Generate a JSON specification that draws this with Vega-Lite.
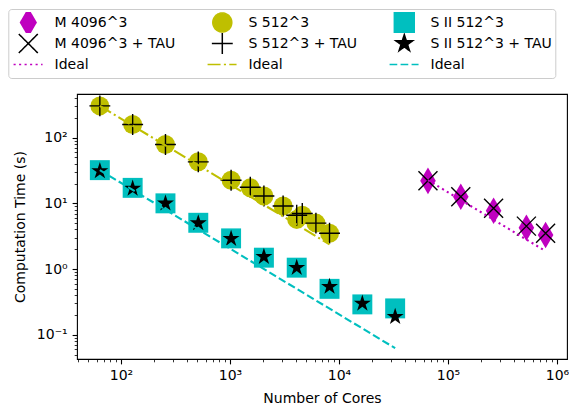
{
  "$schema": "https://vega.github.io/schema/vega-lite/v6.json",
  "width": 490,
  "height": 265,
  "autosize": {"type": "none"},
  "padding": {"left": 77, "top": 94, "right": 2, "bottom": 50},
  "data": {"values": [
    {"series": "M 4096^3", "cores": 65536, "time": 22.0},
    {"series": "M 4096^3", "cores": 131072, "time": 12.6},
    {"series": "M 4096^3", "cores": 262144, "time": 7.7},
    {"series": "M 4096^3", "cores": 524288, "time": 4.25},
    {"series": "M 4096^3", "cores": 786432, "time": 3.29},
    {"series": "M 4096^3 + TAU", "cores": 65536, "time": 22.0},
    {"series": "M 4096^3 + TAU", "cores": 131072, "time": 12.6},
    {"series": "M 4096^3 + TAU", "cores": 262144, "time": 8.4},
    {"series": "M 4096^3 + TAU", "cores": 524288, "time": 4.5},
    {"series": "M 4096^3 + TAU", "cores": 786432, "time": 3.5},
    {"series": "Ideal M", "cores": 65536, "time": 22.5},
    {"series": "Ideal M", "cores": 786432, "time": 1.875},
    {"series": "S 512^3", "cores": 64, "time": 304},
    {"series": "S 512^3", "cores": 128, "time": 158},
    {"series": "S 512^3", "cores": 256, "time": 78.7},
    {"series": "S 512^3", "cores": 512, "time": 42.8},
    {"series": "S 512^3", "cores": 1024, "time": 22.5},
    {"series": "S 512^3", "cores": 1536, "time": 17.2},
    {"series": "S 512^3", "cores": 2048, "time": 12.9},
    {"series": "S 512^3", "cores": 3072, "time": 9.1},
    {"series": "S 512^3", "cores": 4096, "time": 5.7},
    {"series": "S 512^3", "cores": 4608, "time": 6.6},
    {"series": "S 512^3", "cores": 6144, "time": 5.0},
    {"series": "S 512^3", "cores": 8192, "time": 3.5},
    {"series": "S 512^3 + TAU", "cores": 64, "time": 304},
    {"series": "S 512^3 + TAU", "cores": 128, "time": 158},
    {"series": "S 512^3 + TAU", "cores": 256, "time": 78.7},
    {"series": "S 512^3 + TAU", "cores": 512, "time": 42.8},
    {"series": "S 512^3 + TAU", "cores": 1024, "time": 22.5},
    {"series": "S 512^3 + TAU", "cores": 1536, "time": 17.6},
    {"series": "S 512^3 + TAU", "cores": 2048, "time": 12.9},
    {"series": "S 512^3 + TAU", "cores": 3072, "time": 9.1},
    {"series": "S 512^3 + TAU", "cores": 4096, "time": 6.6},
    {"series": "S 512^3 + TAU", "cores": 4608, "time": 7.0},
    {"series": "S 512^3 + TAU", "cores": 6144, "time": 5.0},
    {"series": "S 512^3 + TAU", "cores": 8192, "time": 3.5},
    {"series": "Ideal S", "cores": 64, "time": 304},
    {"series": "Ideal S", "cores": 8192, "time": 2.375},
    {"series": "S II 512^3", "cores": 64, "time": 32},
    {"series": "S II 512^3", "cores": 128, "time": 17.2},
    {"series": "S II 512^3", "cores": 256, "time": 10},
    {"series": "S II 512^3", "cores": 512, "time": 5.06},
    {"series": "S II 512^3", "cores": 1024, "time": 2.93},
    {"series": "S II 512^3", "cores": 2048, "time": 1.49},
    {"series": "S II 512^3", "cores": 4096, "time": 1.05},
    {"series": "S II 512^3", "cores": 8192, "time": 0.50},
    {"series": "S II 512^3", "cores": 16384, "time": 0.29},
    {"series": "S II 512^3", "cores": 32768, "time": 0.252},
    {"series": "S II 512^3 + TAU", "cores": 64, "time": 31},
    {"series": "S II 512^3 + TAU", "cores": 128, "time": 16.8},
    {"series": "S II 512^3 + TAU", "cores": 256, "time": 10},
    {"series": "S II 512^3 + TAU", "cores": 512, "time": 5.0},
    {"series": "S II 512^3 + TAU", "cores": 1024, "time": 2.9},
    {"series": "S II 512^3 + TAU", "cores": 2048, "time": 1.54},
    {"series": "S II 512^3 + TAU", "cores": 4096, "time": 1.05},
    {"series": "S II 512^3 + TAU", "cores": 8192, "time": 0.54},
    {"series": "S II 512^3 + TAU", "cores": 16384, "time": 0.30},
    {"series": "S II 512^3 + TAU", "cores": 32768, "time": 0.188},
    {"series": "Ideal SII", "cores": 64, "time": 32},
    {"series": "Ideal SII", "cores": 32768, "time": 0.0625}
  ]},
  "encoding": {
    "x": {
      "field": "cores", "type": "quantitative",
      "scale": {"type": "log", "domain": [39.5, 1236000], "nice": false},
      "axis": {
        "title": "Number of Cores",
        "values": [40,50,60,70,80,90,100,200,300,400,500,600,700,800,900,1000,2000,3000,4000,5000,6000,7000,8000,9000,10000,20000,30000,40000,50000,60000,70000,80000,90000,100000,200000,300000,400000,500000,600000,700000,800000,900000,1000000],
        "labelExpr": "datum.value === 100 ? '10²' : datum.value === 1000 ? '10³' : datum.value === 10000 ? '10⁴' : datum.value === 100000 ? '10⁵' : datum.value === 1000000 ? '10⁶' : ''",
        "tickSize": {"condition": {"test": "abs(log(datum.value)/LN10 - round(log(datum.value)/LN10)) < 0.001", "value": 4.9}, "value": 2.8},
        "tickWidth": {"condition": {"test": "abs(log(datum.value)/LN10 - round(log(datum.value)/LN10)) < 0.001", "value": 1.1}, "value": 0.8},
        "labelOverlap": false,
        "labelFlush": false,
        "labelPadding": 4.9,
        "titlePadding": 9
      }
    },
    "y": {
      "field": "time", "type": "quantitative",
      "scale": {"type": "log", "domain": [0.0428, 461], "nice": false},
      "axis": {
        "title": "Computation Time (s)",
        "values": [0.05,0.06,0.07,0.08,0.09,0.1,0.2,0.3,0.4,0.5,0.6,0.7,0.8,0.9,1,2,3,4,5,6,7,8,9,10,20,30,40,50,60,70,80,90,100,200,300,400],
        "labelExpr": "datum.value === 0.1 ? '10⁻¹' : datum.value === 1 ? '10⁰' : datum.value === 10 ? '10¹' : datum.value === 100 ? '10²' : ''",
        "tickSize": {"condition": {"test": "abs(log(datum.value)/LN10 - round(log(datum.value)/LN10)) < 0.001", "value": 4.9}, "value": 2.8},
        "tickWidth": {"condition": {"test": "abs(log(datum.value)/LN10 - round(log(datum.value)/LN10)) < 0.001", "value": 1.1}, "value": 0.8},
        "labelOverlap": false,
        "labelFlush": false,
        "labelPadding": 4.9,
        "titlePadding": 9
      }
    },
    "color": {
      "field": "series", "type": "nominal",
      "scale": {
        "domain": ["M 4096^3", "M 4096^3 + TAU", "Ideal M", "S 512^3", "S 512^3 + TAU", "Ideal S", "S II 512^3", "S II 512^3 + TAU", "Ideal SII"],
        "range": ["#bf00bf", "#000000", "#bf00bf", "#bfbf00", "#000000", "#bfbf00", "#00bfbf", "#000000", "#00bfbf"]
      },
      "legend": {
        "orient": "none",
        "legendX": -68.7,
        "legendY": -85,
        "columns": 3,
        "title": null,
        "labelFont": "DejaVu Sans",
        "labelFontSize": 14,
        "labelColor": "black",
        "labelLimit": 300,
        "labelExpr": "indexof(datum.label, 'Ideal') === 0 ? 'Ideal' : datum.label",
        "symbolSize": 361,
        "symbolStrokeWidth": 1.5,
        "clipHeight": 21,
        "padding": 3,
        "rowPadding": 0,
        "columnPadding": 30,
        "symbolOffset": 6.5,
        "labelOffset": 15.7,
        "strokeColor": "#cccccc",
        "fillColor": "white",
        "cornerRadius": 3,
        "encode": {
          "symbols": {
            "update": {
              "shape": {"signal": "datum.value === 'M 4096^3' ? 'M0,-1.4L0.82,0L0,1.4L-0.82,0Z' : datum.value === 'S 512^3' ? 'circle' : datum.value === 'S II 512^3' ? 'M-1.05,-1.05L1.05,-1.05L1.05,1.05L-1.05,1.05Z' : datum.value === 'M 4096^3 + TAU' ? 'M-1,-1L1,1M-1,1L1,-1' : datum.value === 'S 512^3 + TAU' ? 'M0,-1.1L0,1.1M-1.1,0L1.1,0' : datum.value === 'S II 512^3 + TAU' ? 'M0,-0.94L0.211,-0.29L0.894,-0.29L0.341,0.111L0.553,0.76L0,0.359L-0.553,0.76L-0.341,0.111L-0.894,-0.29L-0.211,-0.29Z' : 'M-1.55,0L1.5,0'"},
              "fill": {"signal": "datum.value === 'M 4096^3' ? '#bf00bf' : datum.value === 'S 512^3' ? '#bfbf00' : datum.value === 'S II 512^3' ? '#00bfbf' : datum.value === 'S II 512^3 + TAU' ? '#000000' : 'transparent'"},
              "stroke": {"signal": "(datum.value === 'M 4096^3 + TAU' || datum.value === 'S 512^3 + TAU') ? '#000000' : datum.value === 'Ideal M' ? '#bf00bf' : datum.value === 'Ideal S' ? '#bfbf00' : datum.value === 'Ideal SII' ? '#00bfbf' : 'transparent'"},
              "strokeDash": {"signal": "datum.value === 'Ideal M' ? [2.1,3.4] : datum.value === 'Ideal S' ? [13,3.3,2.1,3.3] : datum.value === 'Ideal SII' ? [7.7,3.3] : [1,0]"},
              "opacity": {"value": 1}
            }
          }
        }
      }
    }
  },
  "layer": [
    {"transform": [{"filter": "datum.series === 'M 4096^3'"}], "mark": {"type": "point", "shape": "M0,-1.4L0.82,0L0,1.4L-0.82,0Z", "filled": true, "size": 361, "opacity": 1}, "encoding": {}},
    {"transform": [{"filter": "datum.series === 'M 4096^3 + TAU'"}], "mark": {"type": "point", "shape": "M-1,-1L1,1M-1,1L1,-1", "filled": false, "size": 361, "opacity": 1, "strokeWidth": 1.4}, "encoding": {}},
    {"transform": [{"filter": "datum.series === 'Ideal M'"}], "mark": {"type": "line", "strokeDash": [2.1, 3.4], "strokeWidth": 2.1}, "encoding": {}},
    {"transform": [{"filter": "datum.series === 'S 512^3'"}], "mark": {"type": "point", "shape": "circle", "filled": true, "size": 361, "opacity": 1}, "encoding": {}},
    {"transform": [{"filter": "datum.series === 'S 512^3 + TAU'"}], "mark": {"type": "point", "shape": "M0,-1.1L0,1.1M-1.1,0L1.1,0", "filled": false, "size": 361, "opacity": 1, "strokeWidth": 1.4}, "encoding": {}},
    {"transform": [{"filter": "datum.series === 'Ideal S'"}], "mark": {"type": "line", "strokeDash": [13, 3.3, 2.1, 3.3], "strokeWidth": 2.1}, "encoding": {}},
    {"transform": [{"filter": "datum.series === 'S II 512^3'"}], "mark": {"type": "point", "shape": "M-1.05,-1.05L1.05,-1.05L1.05,1.05L-1.05,1.05Z", "filled": true, "size": 361, "opacity": 1}, "encoding": {}},
    {"transform": [{"filter": "datum.series === 'S II 512^3 + TAU'"}], "mark": {"type": "point", "shape": "M0,-0.94L0.211,-0.29L0.894,-0.29L0.341,0.111L0.553,0.76L0,0.359L-0.553,0.76L-0.341,0.111L-0.894,-0.29L-0.211,-0.29Z", "filled": true, "size": 361, "opacity": 1}, "encoding": {}},
    {"transform": [{"filter": "datum.series === 'Ideal SII'"}], "mark": {"type": "line", "strokeDash": [7.7, 3.3], "strokeWidth": 2.1}, "encoding": {}}
  ],
  "config": {
    "font": "DejaVu Sans",
    "view": {"stroke": "black", "strokeWidth": 1.1},
    "axis": {
      "labelFont": "DejaVu Sans",
      "labelFontSize": 14,
      "labelColor": "black",
      "titleFont": "DejaVu Sans",
      "titleFontSize": 14,
      "titleFontWeight": "normal",
      "titleColor": "black",
      "tickColor": "black",
      "grid": false,
      "domain": false
    }
  }
}
